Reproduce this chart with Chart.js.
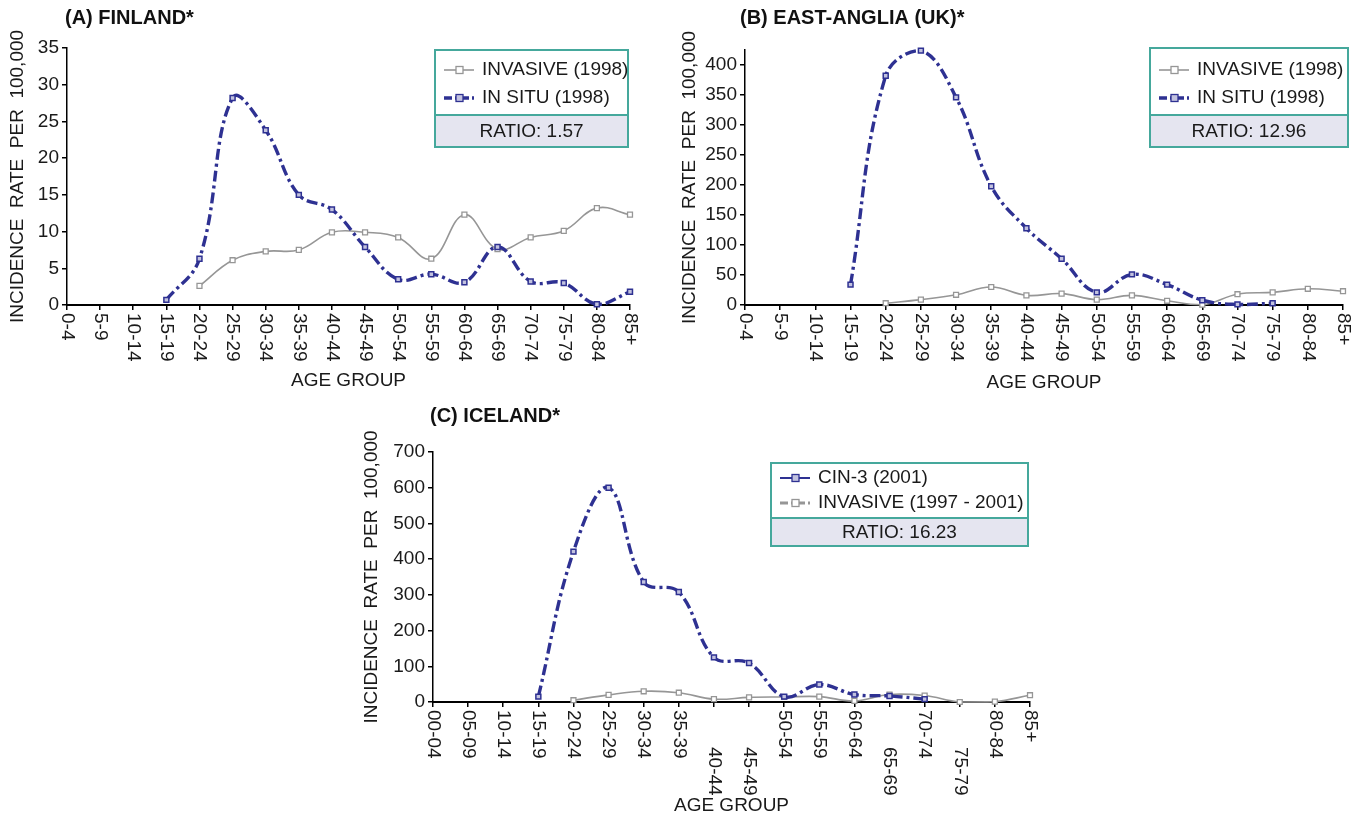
<!DOCTYPE html>
<html>
<head>
<meta charset="utf-8">
<title>Incidence rate per 100,000 by age group</title>
<script src="https://cdn.jsdelivr.net/npm/chart.js@4.4.1/dist/chart.umd.min.js"></script>
<style>
  html, body { margin: 0; padding: 0; background: #fff; }
  body { width: 1364px; height: 821px; position: relative; overflow: hidden; }
  .panel { position: absolute; }
</style>
</head>
<body>
<div class="panel" style="left:0;top:0;width:660px;height:400px"><canvas id="finlandChart"></canvas></div>
<div class="panel" style="left:670px;top:0;width:694px;height:400px"><canvas id="angliaChart"></canvas></div>
<div class="panel" style="left:340px;top:400px;width:720px;height:421px"><canvas id="icelandChart"></canvas></div>
<script>
// age groups on the x axis
const ageGroups = ['0-4', '5-9', '10-14', '15-19', '20-24', '25-29', '30-34', '35-39', '40-44',
  '45-49', '50-54', '55-59', '60-64', '65-69', '70-74', '75-79', '80-84', '85+'];
const icelandAgeGroups = ['00-04', '05-09', '10-14', '15-19', '20-24', '25-29', '30-34', '35-39', '40-44',
  '45-49', '50-54', '55-59', '60-64', '65-69', '70-74', '75-79', '80-84', '85+'];

// (A) Finland, 1998
const finlandInvasive = [null, null, null, null, 2.6, 6.1, 7.3, 7.5, 9.9, 9.9, 9.2, 6.3, 12.3, 7.6, 9.2, 10.1, 13.2, 12.3];
const finlandInSitu = [null, null, null, 0.7, 6.3, 28.2, 23.8, 15.0, 13.0, 7.9, 3.5, 4.2, 3.1, 7.9, 3.2, 3.0, 0.1, 1.8];
const finlandTicks = [0, 5, 10, 15, 20, 25, 30, 35];

// (B) East-Anglia, 1998
const angliaInvasive = [null, null, null, null, 3, 9, 17, 30, 16, 19, 9, 16, 7, 0.5, 18, 21, 27, 23];
const angliaInSitu = [null, null, null, 34, 382, 424, 346, 198, 128, 77, 21, 51, 34, 8, 1, 3, null, null];
const angliaTicks = [0, 50, 100, 150, 200, 250, 300, 350, 400];

// (C) Iceland
const icelandCin3 = [null, null, null, 15, 421, 600, 336, 308, 125, 109, 15, 49, 21, 17, 8, null, null, null];
const icelandInvasive = [null, null, null, null, 5, 20, 30, 26, 8, 13, 14, 15, 3, 21, 18, 0, 1, 19];
const icelandTicks = [0, 100, 200, 300, 400, 500, 600, 700];

const FONT = '"Liberation Sans", Arial, sans-serif';
const BLUE = '#2e3192';
const GREY = '#969696';
const TEAL = '#45a89c';

Chart.defaults.font.family = FONT;
Chart.defaults.color = '#1a1a1a';

function blueLine(label, data) {
  return {
    label, data, order: 0,
    borderColor: BLUE, borderWidth: 3.4, borderDash: [11, 4, 3, 4],
    pointStyle: 'rect', pointRadius: 3.5, pointBorderWidth: 1.5,
    pointBorderColor: BLUE, pointBackgroundColor: '#c2c2df',
    tension: 0.4, clip: false, spanGaps: false
  };
}

function greyLine(label, data) {
  return {
    label, data, order: 1,
    borderColor: GREY, borderWidth: 1.6,
    pointStyle: 'rect', pointRadius: 3.5, pointBorderWidth: 1.3,
    pointBorderColor: GREY, pointBackgroundColor: '#ffffff',
    tension: 0.4, clip: false, spanGaps: false
  };
}

// title, clockwise x labels and the framed legend with the ratio
const panelDecor = {
  id: 'panelDecor',
  afterDraw(chart, args, opts) {
    const ctx = chart.ctx;
    const xs = chart.scales.x;
    ctx.save();
    ctx.fillStyle = '#111';
    ctx.textBaseline = 'middle';

    ctx.font = 'bold 20px ' + FONT;
    ctx.textAlign = 'left';
    ctx.fillText(opts.title, opts.titleX, opts.titleY);

    ctx.font = '19px ' + FONT;
    ctx.fillStyle = '#1a1a1a';
    chart.data.labels.forEach((lab, i) => {
      const drop = (opts.dropped || []).includes(i) ? opts.dropBy : 0;
      ctx.save();
      ctx.translate(xs.getPixelForTick(i), xs.top + 8 + drop);
      ctx.rotate(Math.PI / 2);
      ctx.textAlign = 'left';
      ctx.fillText(lab, 0, 0);
      ctx.restore();
    });

    const b = opts.box;
    ctx.fillStyle = '#ffffff';
    ctx.fillRect(b.x, b.y, b.w, b.h);
    ctx.fillStyle = '#e5e5f0';
    ctx.fillRect(b.x, b.y + b.split, b.w, b.h - b.split);
    ctx.strokeStyle = TEAL;
    ctx.lineWidth = 2;
    ctx.strokeRect(b.x, b.y, b.w, b.h);
    ctx.beginPath();
    ctx.moveTo(b.x, b.y + b.split);
    ctx.lineTo(b.x + b.w, b.y + b.split);
    ctx.stroke();

    opts.legendOrder.forEach((di, row) => {
      const ds = chart.data.datasets[di];
      const y = b.y + b.rows[row];
      const x0 = b.x + 9;
      ctx.save();
      ctx.strokeStyle = ds.borderColor;
      ctx.lineWidth = opts.legendWidth[row];
      ctx.setLineDash(opts.legendDash[row]);
      ctx.beginPath();
      ctx.moveTo(x0, y);
      ctx.lineTo(x0 + 30, y);
      ctx.stroke();
      ctx.setLineDash([]);
      ctx.fillStyle = ds.pointBackgroundColor;
      ctx.strokeStyle = ds.pointBorderColor;
      ctx.lineWidth = 1.3;
      ctx.fillRect(x0 + 12, y - 3.5, 7, 7);
      ctx.strokeRect(x0 + 12, y - 3.5, 7, 7);
      ctx.restore();
      ctx.font = '19px ' + FONT;
      ctx.fillStyle = '#1a1a1a';
      ctx.textAlign = 'left';
      ctx.fillText(ds.label, x0 + 38, y);
    });

    ctx.font = '19px ' + FONT;
    ctx.textAlign = 'center';
    ctx.fillText(opts.ratio, b.x + b.w / 2, b.y + (b.split + b.h) / 2 + 1);
    ctx.restore();
  }
};

function buildPanel(canvasId, labels, datasets, ticks, geo, decor) {
  const ctx = document.getElementById(canvasId).getContext('2d');
  return new Chart(ctx, {
    type: 'line',
    data: { labels, datasets },
    plugins: [panelDecor],
    options: {
      responsive: true,
      maintainAspectRatio: false,
      animation: false,
      layout: { padding: { left: 0, top: geo.top, right: geo.right, bottom: 0 } },
      plugins: {
        legend: { display: false },
        tooltip: { enabled: false },
        panelDecor: decor
      },
      scales: {
        x: {
          type: 'category',
          offset: false,
          grid: { drawOnChartArea: false, color: '#000', lineWidth: 1.5, tickLength: 5 },
          border: { color: '#000', width: 2 },
          ticks: { display: false },
          title: {
            display: true, text: 'AGE GROUP', color: '#1a1a1a',
            font: { size: 19 }, padding: { top: 0, bottom: geo.xTitlePad }
          },
          afterFit(scale) { scale.height = geo.xHeight; }
        },
        y: {
          min: 0,
          max: geo.yMax,
          afterBuildTicks(scale) { scale.ticks = ticks.map(v => ({ value: v })); },
          grid: { drawOnChartArea: false, color: '#000', lineWidth: 1.5, tickLength: 5 },
          border: { color: '#000', width: 1.5 },
          ticks: { font: { size: 19 }, padding: 3, color: '#1a1a1a' },
          title: {
            display: true, text: 'INCIDENCE  RATE  PER  100,000', color: '#1a1a1a',
            font: { size: 19 }, padding: { top: geo.yTitlePad, bottom: 0 }
          },
          afterFit(scale) { scale.width = geo.yWidth; }
        }
      }
    }
  });
}

buildPanel('finlandChart', ageGroups,
  [greyLine('INVASIVE (1998)', finlandInvasive), blueLine('IN SITU (1998)', finlandInSitu)],
  finlandTicks,
  { top: 48, right: 30, yMax: 35, yWidth: 67, xHeight: 95, xTitlePad: 8, yTitlePad: 6 },
  {
    title: '(A) FINLAND*', titleX: 65, titleY: 18, ratio: 'RATIO: 1.57',
    legendOrder: [0, 1], legendDash: [[], [8, 3, 3, 3]], legendWidth: [1.6, 3.4],
    box: { x: 435, y: 50, w: 193, h: 97, split: 65, rows: [20, 48] }
  });

buildPanel('angliaChart', ageGroups,
  [greyLine('INVASIVE (1998)', angliaInvasive), blueLine('IN SITU (1998)', angliaInSitu)],
  angliaTicks,
  { top: 50, right: 21, yMax: 425, yWidth: 75, xHeight: 95, xTitlePad: 6, yTitlePad: 8 },
  {
    title: '(B) EAST-ANGLIA (UK)*', titleX: 70, titleY: 18, ratio: 'RATIO: 12.96',
    legendOrder: [0, 1], legendDash: [[], [8, 3, 3, 3]], legendWidth: [1.6, 3.4],
    box: { x: 480, y: 48, w: 198, h: 99, split: 67, rows: [22, 50] }
  });

buildPanel('icelandChart', icelandAgeGroups,
  [blueLine('CIN-3 (2001)', icelandCin3), greyLine('INVASIVE (1997 - 2001)', icelandInvasive)],
  icelandTicks,
  { top: 52, right: 30, yMax: 700, yWidth: 93, xHeight: 119, xTitlePad: 4, yTitlePad: 20 },
  {
    title: '(C) ICELAND*', titleX: 90, titleY: 16, ratio: 'RATIO: 16.23',
    legendOrder: [0, 1], legendDash: [[], [8, 3, 3, 3]], legendWidth: [2, 3],
    dropped: [8, 9, 13, 15], dropBy: 37,
    box: { x: 431, y: 63, w: 257, h: 83, split: 55, rows: [15, 40] }
  });
</script>
</body>
</html>
